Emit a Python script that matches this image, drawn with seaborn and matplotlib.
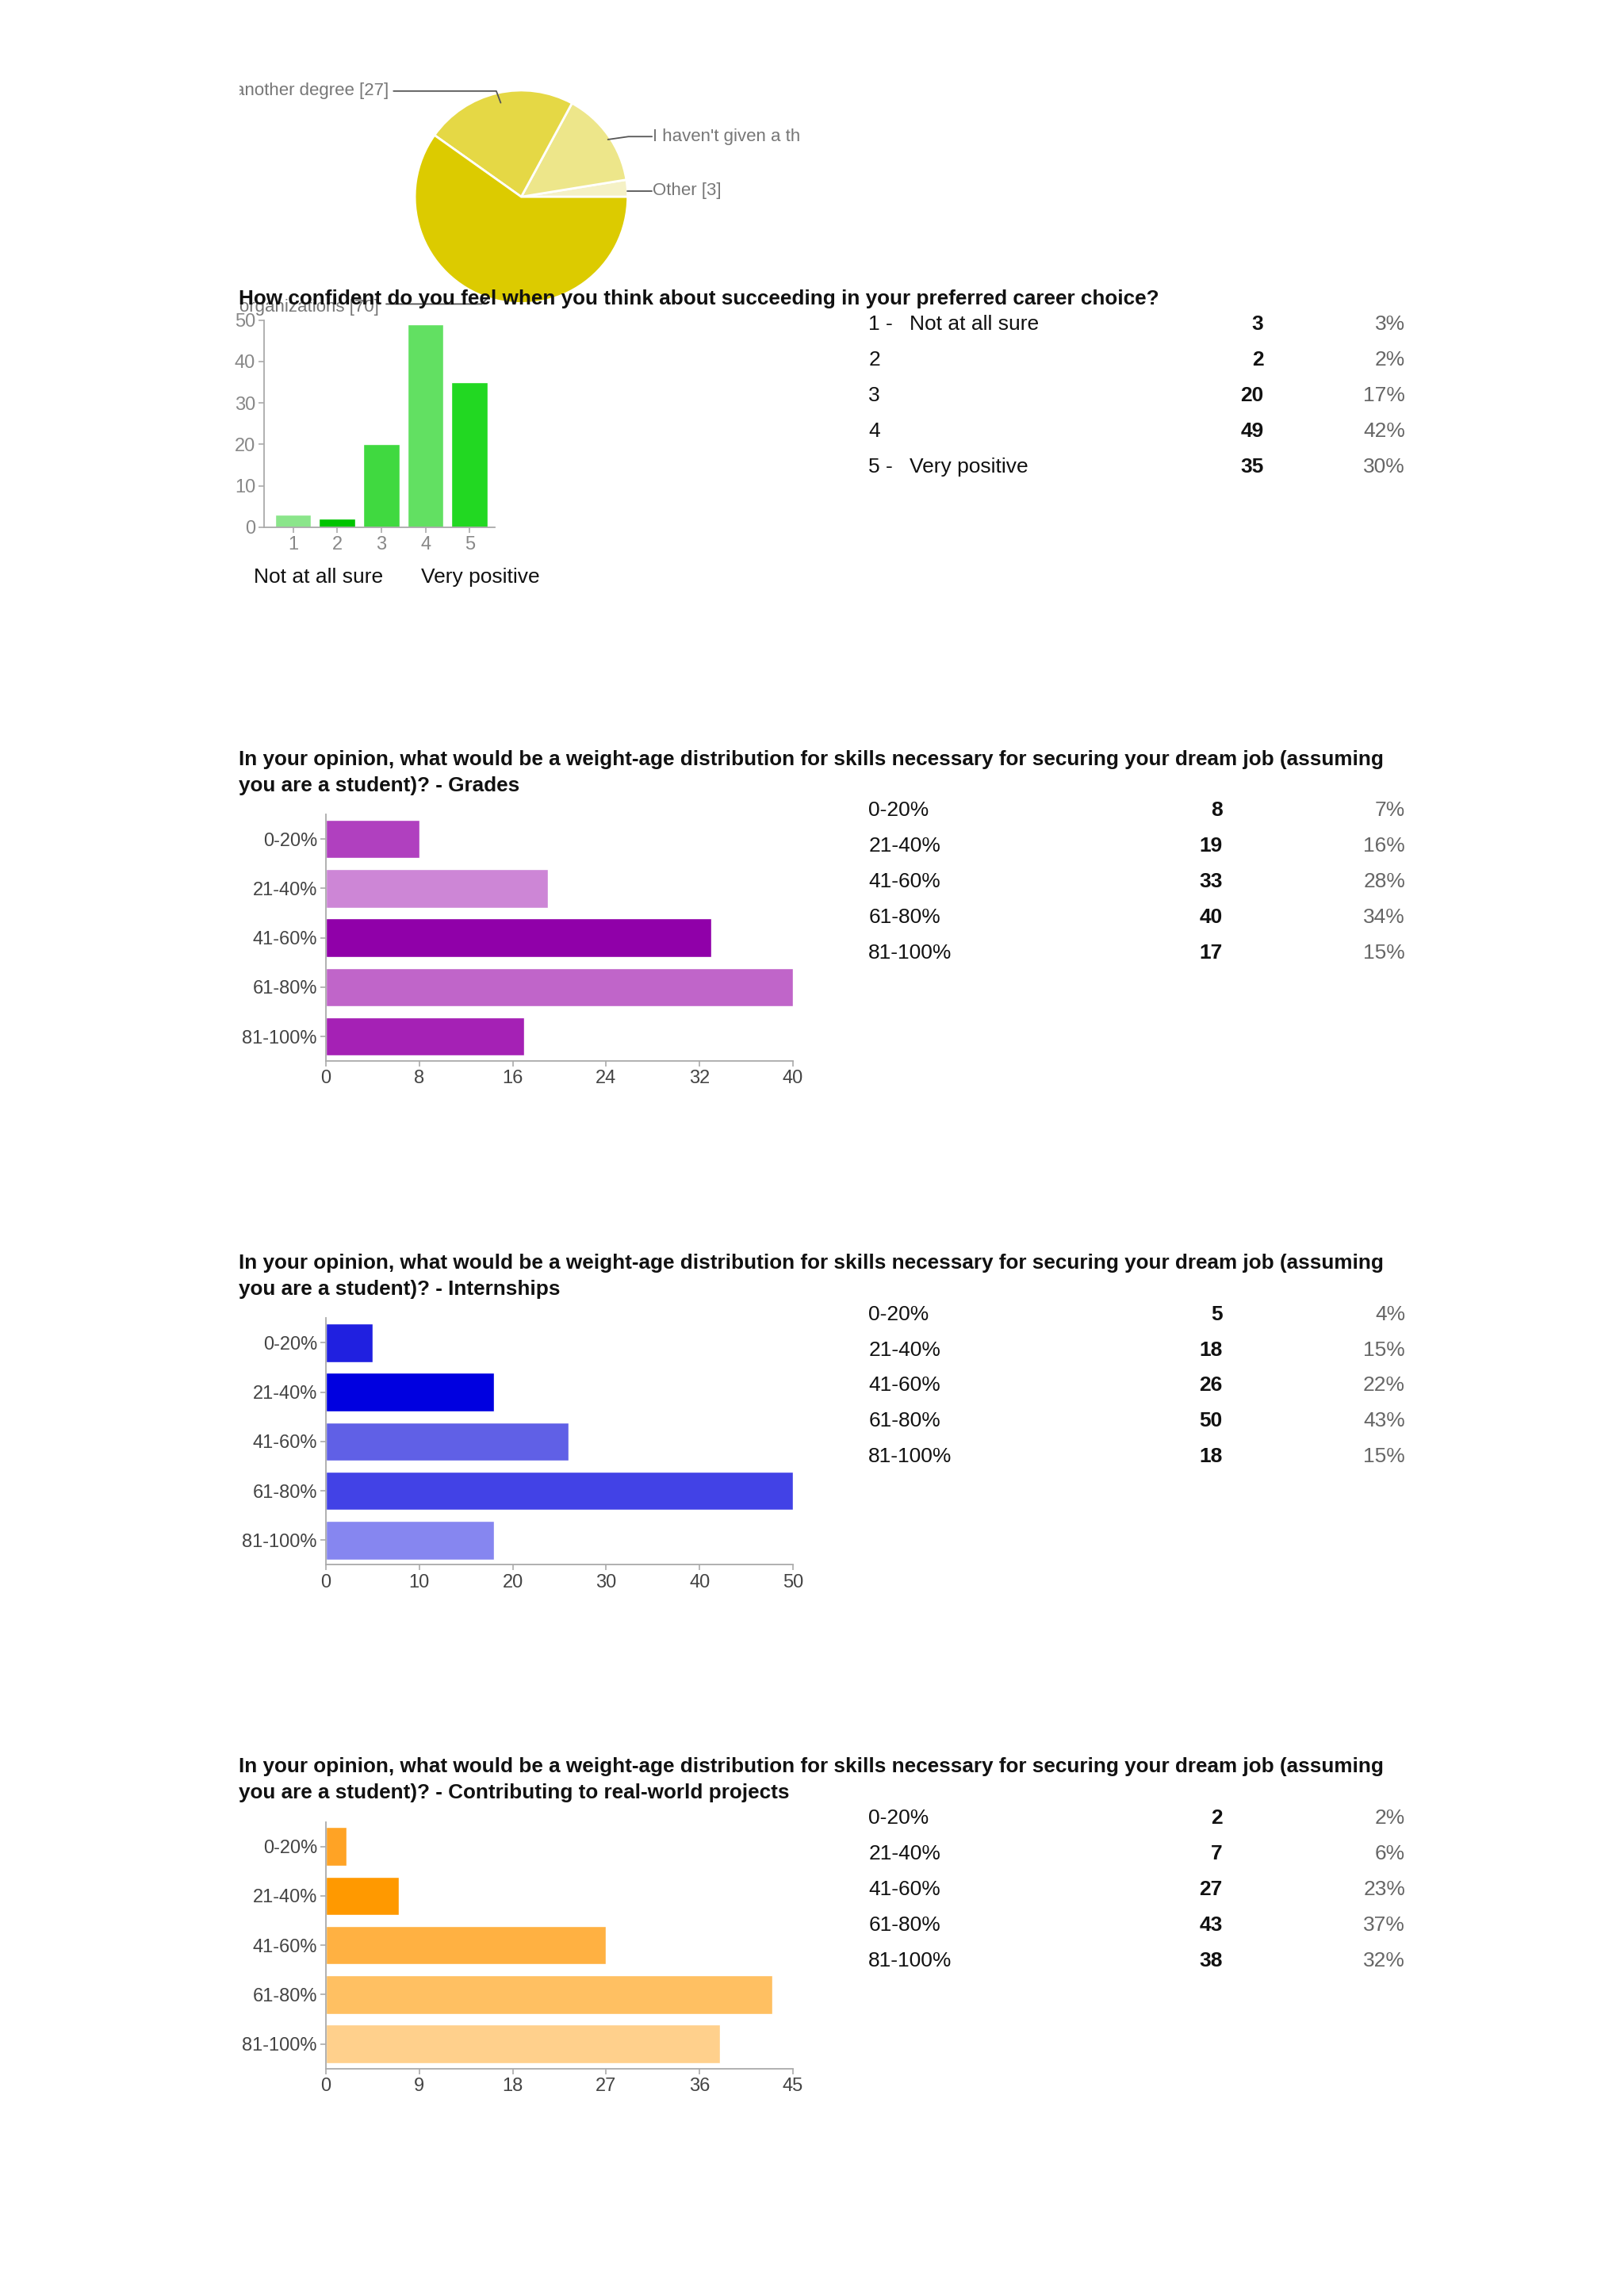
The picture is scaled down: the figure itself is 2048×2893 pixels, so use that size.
import numpy as np
import pandas as pd
import matplotlib
matplotlib.use('Agg')
import matplotlib.pyplot as plt
from matplotlib import font_manager
import seaborn as sns

sns.set_theme(style='white')
names = set(f.name for f in font_manager.fontManager.ttflist)
fam = 'Liberation Sans Narrow' if 'Liberation Sans Narrow' in names else 'Liberation Sans'
plt.rcParams['font.family'] = [fam, 'DejaVu Sans']

### data
plan_labels = ['Other [3]', "I haven't given a th", 'another degree [27]', 'organizations [70]']
plan_counts = [3, 17, 27, 70]
plan_colors = ['#f5f1c6', '#ede68a', '#e5d845', '#dccb00']

conf_levels = ['1', '2', '3', '4', '5']
conf_counts = [3, 2, 20, 49, 35]
conf_pct = ['3%', '2%', '17%', '42%', '30%']
conf_prefix = ['1 -', '2', '3', '4', '5 -']
conf_desc = ['Not at all sure', '', '', '', 'Very positive']
conf_colors = ['#8be58b', '#00c400', '#40d940', '#62e062', '#22d822']

ranges = ['0-20%', '21-40%', '41-60%', '61-80%', '81-100%']
grades_counts = [8, 19, 33, 40, 17]
grades_pct = ['7%', '16%', '28%', '34%', '15%']
grades_colors = ['#b040bf', '#cd86d6', '#9000a9', '#c065c9', '#a521b5']
grades_ticks = [0, 8, 16, 24, 32, 40]

intern_counts = [5, 18, 26, 50, 18]
intern_pct = ['4%', '15%', '22%', '43%', '15%']
intern_colors = ['#2020e0', '#0000e0', '#6060e6', '#4242e6', '#8686f0']
intern_ticks = [0, 10, 20, 30, 40, 50]

proj_counts = [2, 7, 27, 43, 38]
proj_pct = ['2%', '6%', '23%', '37%', '32%']
proj_colors = ['#ffa325', '#ff9900', '#ffb142', '#ffc062', '#ffd08c']
proj_ticks = [0, 9, 18, 27, 36, 45]

q_long = 'In your opinion, what would be a weight-age distribution for skills necessary for securing your dream job (assuming'

W, H = 1106.0, 1562.0  # layout units of the reference (scaled)

def rect(x0, y0, x1, y1):
    return [x0 / W, 1 - y1 / H, (x1 - x0) / W, (y1 - y0) / H]

def fx(x):
    return x / W

def fy(y):
    return 1 - y / H

fig = plt.figure(figsize=(20.48, 28.93), dpi=100)
fig.patch.set_facecolor('white')

TITLE = 18.8
TABLE = 19
TICK = 17
GRID = '#aaaaaa'

### pie (top, clipped screenshot)
cx, cy, r = 355, 134, 72.5
rr = r * 1.25
axp = fig.add_axes(rect(cx - rr, cy - rr, cx + rr, cy + rr))
axp.pie(plan_counts, colors=plan_colors, startangle=0, counterclock=True,
        wedgeprops=dict(edgecolor='white', linewidth=2))

axl = fig.add_axes(rect(163, 40, 1000, 230))
axl.set_xlim(163, 1000)
axl.set_ylim(230, 40)
axl.axis('off')
axl.patch.set_alpha(0)
lc = '#555555'
pc = '#777777'
axl.plot([268, 338, 341], [62, 62, 70], color=lc, lw=1.3)
axl.text(265, 62, plan_labels[2], ha='right', va='center', color=pc, fontsize=16, clip_on=True)
axl.plot([414, 428, 444], [95, 93, 93], color=lc, lw=1.3)
axl.text(444.5, 93, plan_labels[1], ha='left', va='center', color=pc, fontsize=16, clip_on=True)
axl.plot([427, 444], [130, 130], color=lc, lw=1.3)
axl.text(444.5, 130, plan_labels[0], ha='left', va='center', color=pc, fontsize=16, clip_on=True)
axl.plot([263, 328, 332], [207, 207, 203], color=lc, lw=1.3)
axl.text(163, 209, plan_labels[3], ha='left', va='center', color=pc, fontsize=16, clip_on=True)

### confidence question
fig.text(fx(162.5), fy(203.5), 'How confident do you feel when you think about succeeding in your preferred career choice?',
         fontsize=TITLE, fontweight='bold', color='#111111', va='center')

ax = fig.add_axes(rect(180, 218, 337, 359))
sns.barplot(x=conf_levels, y=conf_counts, hue=conf_levels, palette=conf_colors, legend=False,
            ax=ax, width=0.82, saturation=1)
ax.set_xlim(-0.65, 4.57)
ax.set_ylim(0, 50)
ax.set_yticks([0, 10, 20, 30, 40, 50])
ax.set_xlabel('')
ax.set_ylabel('')
ax.patch.set_alpha(0)
sns.despine(ax=ax)
for s in ['left', 'bottom']:
    ax.spines[s].set_color(GRID)
    ax.spines[s].set_linewidth(1.3)
ax.tick_params(axis='both', direction='out', length=5, width=1.2, color=GRID, labelsize=TICK,
               labelcolor='#888888', left=True, bottom=True, pad=3)
fig.text(fx(173), fy(393), 'Not at all sure', fontsize=TABLE, color='#111111', va='center')
fig.text(fx(287), fy(393), 'Very positive', fontsize=TABLE, color='#111111', va='center')

for i in range(5):
    y = 221 + 24.3 * i
    fig.text(fx(591.5), fy(y), conf_prefix[i], fontsize=TABLE, color='#111111', va='center')
    if conf_desc[i]:
        fig.text(fx(619.5), fy(y), conf_desc[i], fontsize=TABLE, color='#111111', va='center')
    fig.text(fx(860.5), fy(y), str(conf_counts[i]), fontsize=TABLE, fontweight='bold', color='#111111',
             ha='right', va='center')
    fig.text(fx(957), fy(y), conf_pct[i], fontsize=TABLE, color='#666666', ha='right', va='center')


### weight-age questions
def hbar_block(off, sub, counts, pct, colors, ticks):
    fig.text(fx(162.5), fy(517 + off), q_long, fontsize=TITLE, fontweight='bold', color='#111111', va='center')
    fig.text(fx(162.5), fy(535 + off), 'you are a student)? - ' + sub, fontsize=TITLE, fontweight='bold',
             color='#111111', va='center')
    ax = fig.add_axes(rect(222, 554.5 + off, 540, 722.5 + off))
    df = pd.DataFrame({'range': ranges, 'count': counts})
    sns.barplot(data=df, x='count', y='range', hue='range', palette=colors, legend=False,
                orient='h', ax=ax, width=0.78, saturation=1)
    ax.set_xlim(ticks[0], ticks[-1])
    ax.set_ylim(4.5, -0.5)
    ax.set_xticks(ticks)
    ax.set_xlabel('')
    ax.set_ylabel('')
    ax.patch.set_alpha(0)
    sns.despine(ax=ax)
    for s in ['left', 'bottom']:
        ax.spines[s].set_color(GRID)
        ax.spines[s].set_linewidth(1.3)
    ax.tick_params(axis='both', direction='out', length=5, width=1.2, color=GRID, labelsize=TICK,
                   labelcolor='#444444', left=True, bottom=True, pad=3)
    for i in range(5):
        y = 552 + off + 24.25 * i
        fig.text(fx(591.5), fy(y), ranges[i], fontsize=TABLE, color='#111111', va='center')
        fig.text(fx(832.5), fy(y), str(counts[i]), fontsize=TABLE, fontweight='bold', color='#111111',
                 ha='right', va='center')
        fig.text(fx(957), fy(y), pct[i], fontsize=TABLE, color='#666666', ha='right', va='center')


hbar_block(0, 'Grades', grades_counts, grades_pct, grades_colors, grades_ticks)
hbar_block(343, 'Internships', intern_counts, intern_pct, intern_colors, intern_ticks)
hbar_block(686, 'Contributing to real-world projects', proj_counts, proj_pct, proj_colors, proj_ticks)

fig.savefig('out.png', dpi=100, facecolor='white')
